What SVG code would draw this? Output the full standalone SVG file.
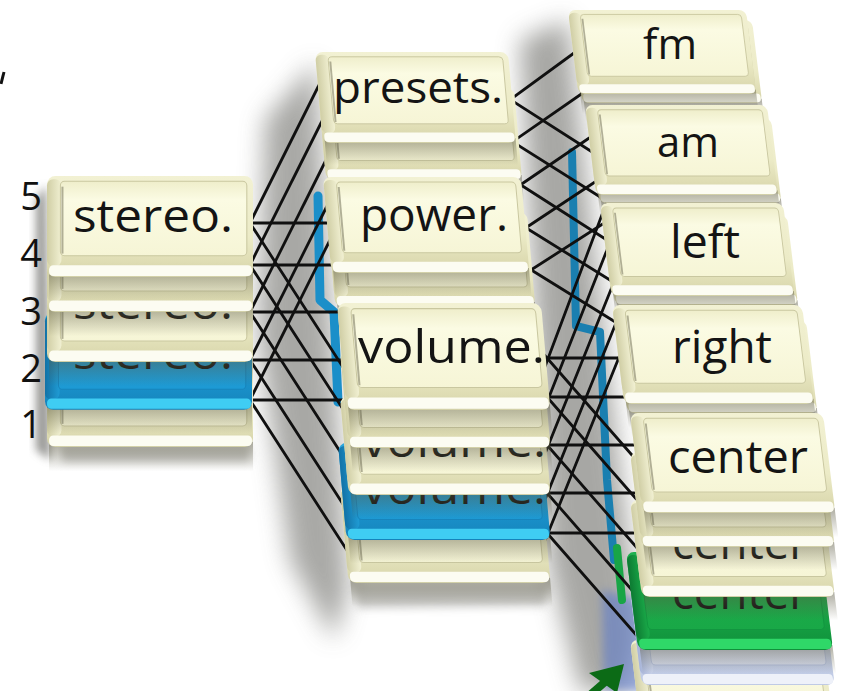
<svg xmlns="http://www.w3.org/2000/svg" xmlns:xlink="http://www.w3.org/1999/xlink" width="843" height="691" viewBox="0 0 843 691">
<style>
.lbl{font-family:"Open Sans","Noto Sans","Liberation Sans",sans-serif;fill:#141414;}
.num{font-family:"Open Sans","Noto Sans","Liberation Sans",sans-serif;fill:#111;font-size:38px;text-anchor:middle;}
.cn line{stroke:#101010;stroke-width:2.8;stroke-linecap:round;}
.strip{fill:none;stroke-linejoin:round;stroke-linecap:round;}
</style>
<defs>
<linearGradient id="shadowGrad" x1="0" y1="0" x2="0" y2="1"><stop offset="0" stop-color="#5a5840" stop-opacity="0.5"/><stop offset="1" stop-color="#5a5840" stop-opacity="0"/></linearGradient>
<linearGradient id="bBase" x1="0" y1="0" x2="0" y2="1"><stop offset="0" stop-color="#f2f1d3"/><stop offset="0.6" stop-color="#ecebc7"/><stop offset="0.86" stop-color="#dedcb3"/><stop offset="1" stop-color="#d2d0a8"/></linearGradient>
<linearGradient id="bFace" x1="0" y1="0" x2="0" y2="1"><stop offset="0" stop-color="#efeecb"/><stop offset="0.25" stop-color="#fbfbe3"/><stop offset="1" stop-color="#f6f5d6"/></linearGradient>
<linearGradient id="bSide" x1="0" y1="0" x2="1" y2="0"><stop offset="0" stop-color="#d0cea5"/><stop offset="1" stop-color="#f1f0d2"/></linearGradient>
<linearGradient id="uBase" x1="0" y1="0" x2="0" y2="1"><stop offset="0" stop-color="#2aa6dc"/><stop offset="0.6" stop-color="#1c98d2"/><stop offset="1" stop-color="#1583bb"/></linearGradient>
<linearGradient id="uFace" x1="0" y1="0" x2="0" y2="1"><stop offset="0" stop-color="#239fd8"/><stop offset="1" stop-color="#1d9ad4"/></linearGradient>
<linearGradient id="uSide" x1="0" y1="0" x2="1" y2="0"><stop offset="0" stop-color="#1272a6"/><stop offset="1" stop-color="#1f9bd4"/></linearGradient>
<linearGradient id="gBase" x1="0" y1="0" x2="0" y2="1"><stop offset="0" stop-color="#1fb04f"/><stop offset="0.6" stop-color="#17a646"/><stop offset="1" stop-color="#10903a"/></linearGradient>
<linearGradient id="gFace" x1="0" y1="0" x2="0" y2="1"><stop offset="0" stop-color="#1cae4c"/><stop offset="1" stop-color="#19a847"/></linearGradient>
<linearGradient id="gSide" x1="0" y1="0" x2="1" y2="0"><stop offset="0" stop-color="#0d7a32"/><stop offset="1" stop-color="#1aaa49"/></linearGradient>
<linearGradient id="lBase" x1="0" y1="0" x2="0" y2="1"><stop offset="0" stop-color="#d3daee"/><stop offset="1" stop-color="#bfcae5"/></linearGradient>
<linearGradient id="lFace" x1="0" y1="0" x2="0" y2="1"><stop offset="0" stop-color="#c6d0ec"/><stop offset="1" stop-color="#d9dff1"/></linearGradient>
<linearGradient id="lSide" x1="0" y1="0" x2="1" y2="0"><stop offset="0" stop-color="#a7b4d8"/><stop offset="1" stop-color="#ccd5ec"/></linearGradient>
<filter id="blur" x="-50%" y="-50%" width="200%" height="200%"><feGaussianBlur stdDeviation="12"/></filter>
<filter id="blurS" x="-50%" y="-50%" width="200%" height="200%"><feGaussianBlur stdDeviation="4"/></filter>
<g id="capB">
  <rect x="2" y="90" width="198" height="28" fill="url(#shadowGrad)"/>
  <rect x="0" y="0" width="200" height="95" rx="8" fill="url(#bBase)"/>
  <rect x="0" y="3" width="14" height="82" rx="6" fill="url(#bSide)"/>
  <rect x="13" y="5" width="181" height="70" rx="4" fill="url(#bFace)" stroke="#c9c7a0" stroke-width="1"/>
  <line x1="15" y1="10" x2="15" y2="73" stroke="#77755c" stroke-width="2" opacity="0.55"/>
  <rect x="2" y="84" width="197" height="10" rx="4" fill="#fcfcf2"/>
</g>
<g id="capU">
  <rect x="2" y="90" width="198" height="28" fill="url(#shadowGrad)"/>
  <rect x="0" y="0" width="200" height="95" rx="8" fill="url(#uBase)"/>
  <rect x="0" y="3" width="14" height="82" rx="6" fill="url(#uSide)"/>
  <rect x="13" y="5" width="181" height="70" rx="4" fill="url(#uFace)" stroke="#1785bd" stroke-width="1"/>
  <rect x="2" y="84" width="197" height="10" rx="4" fill="#3fcdf3"/>
</g>
<g id="capG">
  <rect x="2" y="90" width="198" height="28" fill="url(#shadowGrad)"/>
  <rect x="0" y="0" width="200" height="95" rx="8" fill="url(#gBase)"/>
  <rect x="0" y="3" width="14" height="82" rx="6" fill="url(#gSide)"/>
  <rect x="13" y="5" width="181" height="70" rx="4" fill="url(#gFace)" stroke="#129640" stroke-width="1"/>
  <rect x="2" y="84" width="197" height="10" rx="4" fill="#2fd868"/>
</g>
<g id="capL">
  <rect x="0" y="0" width="200" height="95" rx="8" fill="url(#lBase)"/>
  <rect x="0" y="3" width="14" height="82" rx="6" fill="url(#lSide)"/>
  <rect x="13" y="5" width="181" height="70" rx="4" fill="url(#lFace)" stroke="#b3bfdf" stroke-width="1"/>
  <rect x="2" y="84" width="197" height="10" rx="4" fill="#eef1f9"/>
</g>
</defs>

<rect width="843" height="691" fill="#ffffff"/>

<!-- background shading -->
<g id="shading">
  <polygon points="36,200 46,185 50,460 36,450" fill="#6e6e6a" opacity="0.7" filter="url(#blurS)"/>
  <polygon points="60,445 250,445 250,462 62,462" fill="#9a9a96" opacity="0.5" filter="url(#blurS)"/>
  <polygon points="265,120 316,62 348,590 334,640 290,560 258,330" fill="#8c8c88" opacity="0.75" filter="url(#blur)"/>
  <polygon points="520,40 568,20 640,640 628,691 580,691 548,560" fill="#8a8a86" opacity="0.75" filter="url(#blur)"/>
  <polygon points="352,583 550,583 545,606 358,608" fill="#a0a09c" opacity="0.6" filter="url(#blurS)"/>
  <polygon points="602,590 640,600 645,691 604,691" fill="#5f7bc9" opacity="0.6" filter="url(#blurS)"/>
</g>
<g id="back-strips">
  <polyline class="strip" points="318,196 320,300 334,312 338,402" stroke="#1b8fc9" stroke-width="9"/>
  <polyline class="strip" points="572,152 576,326 600,332 607,480 614,560" stroke="#1a7fb0" stroke-width="8"/>
  <polyline class="strip" points="617,548 622,600" stroke="#18a546" stroke-width="8"/>
</g>

<!-- connectors -->
<g id="connectors" class="cn">
  <!-- left stack to middle stack -->
  <line x1="250" y1="223" x2="345" y2="223"/>
  <line x1="250" y1="265" x2="345" y2="265"/>
  <line x1="250" y1="312" x2="345" y2="312"/>
  <line x1="250" y1="360" x2="345" y2="360"/>
  <line x1="250" y1="400" x2="345" y2="400"/>
  <line x1="250" y1="223" x2="330" y2="63"/>
  <line x1="250" y1="265" x2="330" y2="105"/>
  <line x1="250" y1="312" x2="330" y2="152"/>
  <line x1="250" y1="360" x2="330" y2="200"/>
  <line x1="250" y1="400" x2="330" y2="240"/>
  <line x1="250" y1="223" x2="350" y2="378"/>
  <line x1="250" y1="265" x2="350" y2="420"/>
  <line x1="250" y1="312" x2="350" y2="467"/>
  <line x1="250" y1="360" x2="350" y2="515"/>
  <line x1="250" y1="400" x2="350" y2="555"/>
  <!-- middle stack (upper) to right stack -->
  <line x1="500" y1="107" x2="585" y2="45"/>
  <line x1="500" y1="93" x2="600" y2="157"/>
  <line x1="505" y1="147" x2="590" y2="88"/>
  <line x1="505" y1="137" x2="605" y2="200"/>
  <line x1="510" y1="192" x2="598" y2="132"/>
  <line x1="510" y1="178" x2="610" y2="242"/>
  <line x1="515" y1="235" x2="604" y2="176"/>
  <line x1="515" y1="221" x2="618" y2="285"/>
  <line x1="520" y1="277" x2="612" y2="218"/>
  <line x1="520" y1="263" x2="625" y2="328"/>
  <!-- middle stack (lower) to right stack -->
  <line x1="540" y1="358" x2="640" y2="358"/>
  <line x1="540" y1="397" x2="640" y2="397"/>
  <line x1="540" y1="445" x2="645" y2="445"/>
  <line x1="540" y1="493" x2="650" y2="493"/>
  <line x1="540" y1="533" x2="650" y2="533"/>
  <line x1="540" y1="350" x2="645" y2="470"/>
  <line x1="540" y1="389" x2="645" y2="509"/>
  <line x1="540" y1="437" x2="645" y2="557"/>
  <line x1="540" y1="485" x2="645" y2="605"/>
  <line x1="540" y1="525" x2="645" y2="645"/>
  <line x1="540" y1="380" x2="615" y2="180"/>
  <line x1="540" y1="420" x2="618" y2="222"/>
  <line x1="540" y1="466" x2="622" y2="262"/>
  <line x1="540" y1="512" x2="626" y2="298"/>
  <line x1="540" y1="553" x2="630" y2="330"/>
</g>

<!-- left stack: stereo -->
<g id="stereo-stack">
  <use xlink:href="#capB" transform="translate(47,347) scale(1.03,1.053)"/>
  <use xlink:href="#capU" transform="translate(45,312) scale(1.035,1.03)"/>
  <text class="lbl" x="73" y="369" font-size="46" textLength="160" lengthAdjust="spacingAndGlyphs">stereo.</text>
  <use xlink:href="#capB" transform="translate(47,262) scale(1.03,1.053)"/>
  <text class="lbl" x="73" y="319" font-size="46" textLength="160" lengthAdjust="spacingAndGlyphs">stereo.</text>
  <use xlink:href="#capB" transform="translate(47,212) scale(1.03,1.053)"/>
  <use xlink:href="#capB" transform="translate(47,176) scale(1.03,1.063)"/>
  <text class="lbl" x="73" y="232" font-size="46" textLength="160" lengthAdjust="spacingAndGlyphs">stereo.</text>
</g>
<g id="level-numbers">
  <text class="num" x="31" y="210">5</text>
  <text class="num" x="31" y="267">4</text>
  <text class="num" x="31" y="325">3</text>
  <text class="num" x="31" y="382">2</text>
  <text class="num" x="31" y="438">1</text>
</g>

<!-- middle stacks -->
<g id="presets-stack">
  <use xlink:href="#capB" transform="translate(318,88) skewX(5) scale(0.98,0.968)"/>
  <use xlink:href="#capB" transform="translate(315,52) skewX(5) scale(0.965,0.958)"/>
  <text class="lbl" x="333" y="103" font-size="44" textLength="170" lengthAdjust="spacingAndGlyphs">presets.</text>
</g>
<g id="power-stack">
  <use xlink:href="#capB" transform="translate(327,212) skewX(5) scale(1.0,1.0)"/>
  <use xlink:href="#capB" transform="translate(323,177) skewX(5) scale(0.99,1.01)"/>
  <text class="lbl" x="360" y="231" font-size="46" textLength="148" lengthAdjust="spacingAndGlyphs">power.</text>
</g>
<g id="volume-stack">
  <use xlink:href="#capB" transform="translate(340,486) skewX(5) scale(1.01,1.02)"/>
  <use xlink:href="#capU" transform="translate(338,443) skewX(5) scale(1.02,1.02)"/>
  <text class="lbl" x="362" y="504" font-size="46" textLength="184" lengthAdjust="spacingAndGlyphs">volume.</text>
  <use xlink:href="#capB" transform="translate(340,396) skewX(5) scale(1.01,1.042)"/>
  <text class="lbl" x="362" y="457" font-size="46" textLength="184" lengthAdjust="spacingAndGlyphs">volume.</text>
  <use xlink:href="#capB" transform="translate(340,350) skewX(5) scale(1.01,1.032)"/>
  <use xlink:href="#capB" transform="translate(337,303) skewX(5) scale(1.02,1.126)"/>
  <text class="lbl" x="358" y="363" font-size="46" textLength="187" lengthAdjust="spacingAndGlyphs">volume.</text>
</g>

<!-- right stacks -->
<g id="fm-stack">
  <use xlink:href="#capB" transform="translate(572,20) skewX(7) scale(0.9,0.874)"/>
  <use xlink:href="#capB" transform="translate(568,10) skewX(7) scale(0.89,0.884)"/>
  <text class="lbl" x="643" y="59" font-size="42" textLength="54" lengthAdjust="spacingAndGlyphs">fm</text>
</g>
<g id="am-stack">
  <use xlink:href="#capB" transform="translate(589,118) skewX(7) scale(0.91,0.895)"/>
  <use xlink:href="#capB" transform="translate(585,105) skewX(7) scale(0.91,0.947)"/>
  <text class="lbl" x="657" y="157" font-size="42" textLength="62" lengthAdjust="spacingAndGlyphs">am</text>
</g>
<g id="left-stack">
  <use xlink:href="#capB" transform="translate(604,215) skewX(7) scale(0.915,0.947)"/>
  <use xlink:href="#capB" transform="translate(600,203) skewX(7) scale(0.915,0.979)"/>
  <text class="lbl" x="670" y="258" font-size="46" textLength="70" lengthAdjust="spacingAndGlyphs">left</text>
</g>
<g id="right-stack">
  <use xlink:href="#capB" transform="translate(616,320) skewX(7) scale(0.95,0.979)"/>
  <use xlink:href="#capB" transform="translate(612,305) skewX(7) scale(0.95,1.042)"/>
  <text class="lbl" x="672" y="363" font-size="46" textLength="100" lengthAdjust="spacingAndGlyphs">right</text>
</g>
<g id="center-stack">
  <use xlink:href="#capB" transform="translate(630,640) skewX(7) scale(0.965,1)"/>
  <use xlink:href="#capL" transform="translate(630,590) skewX(7) scale(0.965,1)"/>
  <use xlink:href="#capG" transform="translate(626,552) skewX(7) scale(0.975,1.032)"/>
  <text class="lbl" x="672" y="609" font-size="46" textLength="136" lengthAdjust="spacingAndGlyphs">center</text>
  <use xlink:href="#capB" transform="translate(630,500) skewX(7) scale(0.965,1.021)"/>
  <text class="lbl" x="672" y="559" font-size="46" textLength="136" lengthAdjust="spacingAndGlyphs">center</text>
  <use xlink:href="#capB" transform="translate(630,452) skewX(7) scale(0.965,1)"/>
  <use xlink:href="#capB" transform="translate(630,413) skewX(7) scale(0.965,1.053)"/>
  <text class="lbl" x="668" y="473" font-size="46" textLength="140" lengthAdjust="spacingAndGlyphs">center</text>
</g>

<g id="marks">
  <line x1="4" y1="72" x2="1" y2="84" stroke="#111" stroke-width="3"/>
  <line x1="590" y1="695" x2="613" y2="675" stroke="#0c6b16" stroke-width="8"/>
  <polygon points="624,664 589,673 617,693" fill="#0c6b16"/>
</g>
</svg>
